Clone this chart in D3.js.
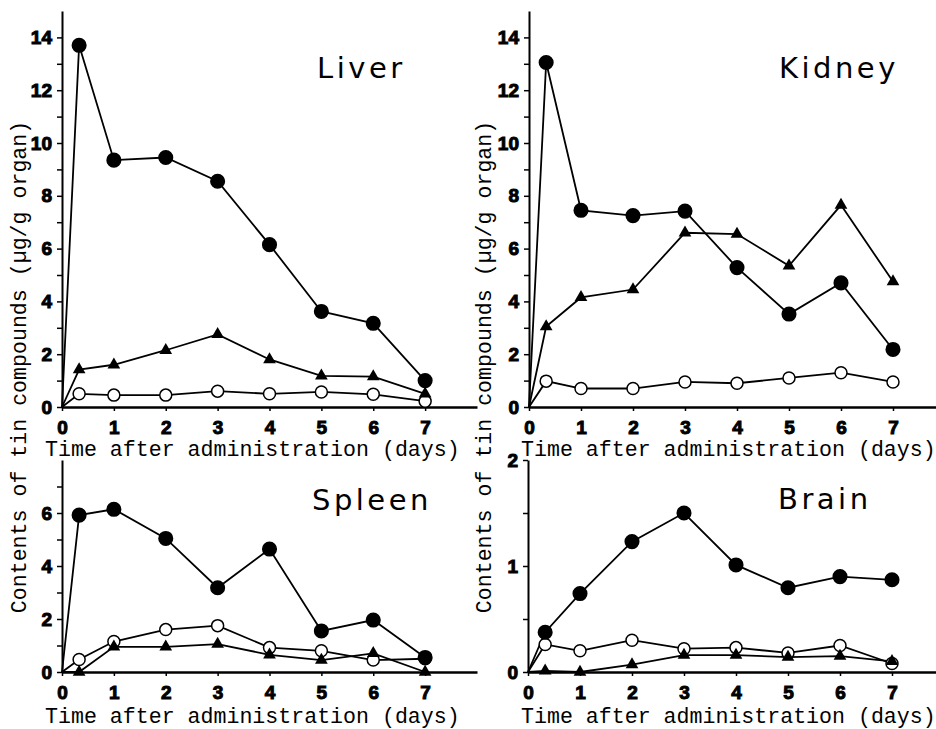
<!doctype html>
<html>
  <head>
    <script src="https://cdnjs.cloudflare.com/ajax/libs/d3/7.8.5/d3.min.js"></script>
    <style>
      body { margin: 0; background: #fff; }
      .tick text { font-family: "Liberation Sans Narrow", "Arial Narrow", "Liberation Sans", sans-serif; font-weight: bold; font-size: 19px; stroke: #000; stroke-width: 1px; }
      .mono { font-family: "Liberation Mono", "Courier New", monospace; font-size: 21.6px; }
      .organ { font-family: "DejaVu Sans", Verdana, sans-serif; font-size: 29px; letter-spacing: 3.5px; }
    </style>
  </head>
  <body>
    <svg width="936" height="729"></svg>
    <script>
        // days after administration (first sample ~8 h)
        var days = [0.33, 1, 2, 3, 4, 5, 6, 7];
        var origin = [0, 0];

        var liverFilled = [13.7, 9.35, 9.45, 8.55, 6.15, 3.62, 3.17, 1.0];
        var liverTri = [1.42, 1.6, 2.15, 2.75, 1.8, 1.18, 1.15, 0.5];
        var liverOpen = [0.5, 0.45, 0.45, 0.6, 0.5, 0.57, 0.48, 0.22];

        var kidneyFilled = [13.05, 7.45, 7.25, 7.42, 5.28, 3.52, 4.7, 2.18];
        var kidneyTri = [3.05, 4.15, 4.45, 6.6, 6.55, 5.35, 7.65, 4.75];
        var kidneyOpen = [0.98, 0.7, 0.7, 0.95, 0.9, 1.1, 1.3, 0.95];

        var spleenFilled = [5.92, 6.14, 5.04, 3.18, 4.64, 1.55, 1.96, 0.55];
        var spleenTri = [0.0, 0.95, 0.95, 1.05, 0.65, 0.45, 0.7, 0.0];
        var spleenOpen = [0.47, 1.15, 1.6, 1.75, 0.92, 0.8, 0.45, 0.5];

        var brainFilled = [0.375, 0.74, 1.23, 1.5, 1.01, 0.795, 0.9, 0.87];
        var brainTri = [0.01, 0.0, 0.07, 0.16, 0.16, 0.14, 0.15, 0.1];
        var brainOpen = [0.26, 0.2, 0.3, 0.22, 0.23, 0.18, 0.25, 0.08];

        var xTicks = [0, 1, 2, 3, 4, 5, 6, 7];
        var topTicks = [0, 2, 4, 6, 8, 10, 12, 14];
        var topMinor = [1, 3, 5, 7, 9, 11, 13];
        var spleenTicks = [0, 2, 4, 6];
        var spleenMinor = [1, 3, 5, 7];
        var brainTicks = [0, 1, 2];
        var brainMinor = [0.5, 1.5];

        var xTitle = "Time after administration (days)";
        var yTitle = "Contents of tin compounds (\u00b5g/g organ)";

        var panels = [
            {name: "Liver", x: [62, 477], y: [407, 11], max: 15, ticks: topTicks, minor: topMinor,
             filled: liverFilled, tri: liverTri, open: liverOpen, nameAt: [317, 78], titleAt: [45, 456]},
            {name: "Kidney", x: [529, 945], y: [407, 11], max: 15, ticks: topTicks, minor: topMinor,
             filled: kidneyFilled, tri: kidneyTri, open: kidneyOpen, nameAt: [779, 78], titleAt: [521, 456]},
            {name: "Spleen", x: [62, 477], y: [672, 460], max: 8, ticks: spleenTicks, minor: spleenMinor,
             filled: spleenFilled, tri: spleenTri, open: spleenOpen, nameAt: [312, 510], titleAt: [45, 723]},
            {name: "Brain", x: [528, 944], y: [672, 460], max: 2, ticks: brainTicks, minor: brainMinor,
             filled: brainFilled, tri: brainTri, open: brainOpen, nameAt: [778, 509], titleAt: [521, 723]}
        ];

        var svg = d3.select("svg");

        panels.forEach(p => drawPanel(p));

        function drawPanel(p){
            var xScale = d3.scaleLinear().domain([0, 8]).range(p.x);
            var yScale = d3.scaleLinear().domain([0, p.max]).range(p.y);
            var g = svg.append("g");

            // minor ticks first, no labels
            g.append("g")
                .attr("transform", "translate(" + p.x[0] + ",0)")
                .call(d3.axisLeft(yScale).tickValues(p.minor).tickSize(5).tickFormat(""))
                .call(a => a.select(".domain").remove());

            var yAxis = g.append("g")
                .attr("transform", "translate(" + p.x[0] + ",0)")
                .call(d3.axisLeft(yScale).tickValues(p.ticks).tickSize(5).tickPadding(5).tickSizeOuter(0).tickFormat(d3.format("d")));
            yAxis.select(".domain").attr("stroke-width", 2);

            var xAxis = g.append("g")
                .attr("transform", "translate(0," + p.y[0] + ")")
                .call(d3.axisBottom(xScale).tickValues(xTicks).tickSize(4).tickPadding(10).tickSizeOuter(0));
            xAxis.select(".domain").attr("stroke-width", 2.5);
            g.selectAll(".tick line").attr("stroke-width", 1.5);

            var line = d3.line().x(d => xScale(d[0])).y(d => yScale(d[1]));
            var series = [
                {vals: p.open, kind: "open"},
                {vals: p.tri, kind: "tri"},
                {vals: p.filled, kind: "filled"}
            ];

            series.forEach(s => {
                var pts = [origin].concat(days.map((d, i) => [d, s.vals[i]]));
                g.append("path")
                    .attr("d", line(pts))
                    .attr("fill", "none")
                    .attr("stroke", "#000")
                    .attr("stroke-width", 1.8);
            });

            series.forEach(s => {
                var pts = days.map((d, i) => [d, s.vals[i]]);
                if (s.kind == "tri") {
                    g.selectAll(null).data(pts).enter()
                        .append("path")
                        .attr("d", d3.symbol().type(d3.symbolTriangle).size(70))
                        .attr("transform", d => "translate(" + xScale(d[0]) + "," + yScale(d[1]) + ")")
                        .attr("fill", "#000");
                } else {
                    g.selectAll(null).data(pts).enter()
                        .append("circle")
                        .attr("cx", d => xScale(d[0]))
                        .attr("cy", d => yScale(d[1]))
                        .attr("r", s.kind == "open" ? 6 : 6.8)
                        .attr("fill", s.kind == "open" ? "#fff" : "#000")
                        .attr("stroke", "#000")
                        .attr("stroke-width", 1.5);
                }
            });

            g.append("text")
                .attr("class", "organ")
                .attr("x", p.nameAt[0])
                .attr("y", p.nameAt[1])
                .text(p.name);

            g.append("text")
                .attr("class", "mono")
                .attr("x", p.titleAt[0])
                .attr("y", p.titleAt[1])
                .text(xTitle);
        }

        // shared y titles, one for each column
        [26, 491].forEach(x => {
            svg.append("text")
                .attr("class", "mono")
                .attr("text-anchor", "middle")
                .attr("transform", "translate(" + x + ",367) rotate(-90)")
                .text(yTitle);
        });
    </script>
  </body>
</html>
